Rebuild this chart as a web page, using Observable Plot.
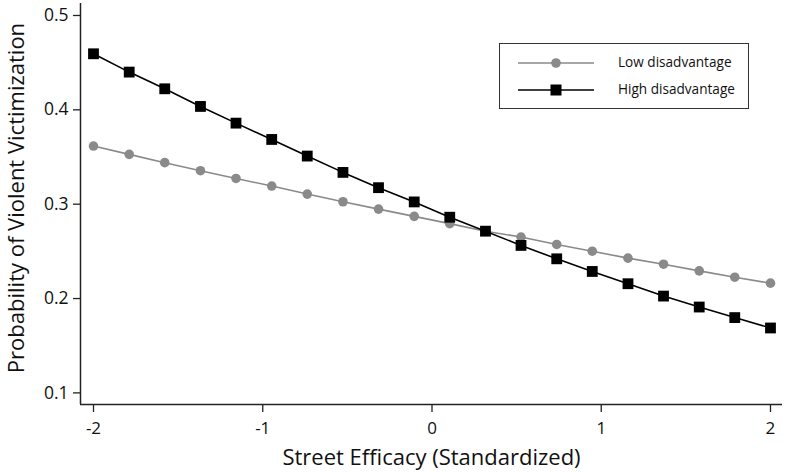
<!DOCTYPE html>
<html><head><meta charset="utf-8">
<script src="https://cdn.jsdelivr.net/npm/d3@7"></script>
<script src="https://cdn.jsdelivr.net/npm/@observablehq/plot@0.6"></script>
<style>
body{margin:0;background:#fff;font-family:"Open Sans",sans-serif}
#wrap{position:relative;width:785px;height:472px}
#legend{position:absolute;left:499px;top:43px;width:248px;height:64px;border:1.4px solid #333;background:#fff;font-family:"Open Sans",sans-serif;font-size:13.6px;color:#111}
.row{position:absolute;left:0;height:20px;width:100%}
.row svg{position:absolute;left:17px;top:0}
.row span{position:absolute;left:118px;top:0px;line-height:18px}
</style></head><body>
<div id="wrap"><div id="chart"></div>
<div id="legend">
  <div class="row" style="top:9px"><svg width="80" height="20"><line x1="1" x2="77" y1="10" y2="10" stroke="#8a8a8a" stroke-width="1.6"/><circle cx="39" cy="10" r="4.8" fill="#8a8a8a"/></svg><span id="l0"></span></div>
  <div class="row" style="top:36px"><svg width="80" height="20"><line x1="1" x2="77" y1="10" y2="10" stroke="#000" stroke-width="1.6"/><rect x="33.5" y="4.5" width="11" height="11" fill="#000"/></svg><span id="l1"></span></div>
</div></div>
<script>
const efficacy = [-2, -1.789, -1.579, -1.368, -1.158, -0.947, -0.737, -0.526, -0.316, -0.105, 0.105, 0.316, 0.526, 0.737, 0.947, 1.158, 1.368, 1.579, 1.789, 2];
const lowDisadvantage = [0.3616, 0.3528, 0.344, 0.3355, 0.3273, 0.3192, 0.3107, 0.3026, 0.2948, 0.2871, 0.2794, 0.2714, 0.2652, 0.2573, 0.2502, 0.2428, 0.2364, 0.2293, 0.2226, 0.2163];
const highDisadvantage = [0.4594, 0.440, 0.4223, 0.4036, 0.3859, 0.3686, 0.351, 0.3337, 0.3175, 0.3024, 0.2862, 0.2714, 0.2563, 0.2421, 0.2287, 0.2157, 0.2026, 0.191, 0.1798, 0.1688];
const seriesNames = ["Low disadvantage", "High disadvantage"];
const xTicks = [-2, -1, 0, 1, 2];
const yTicks = [0.1, 0.2, 0.3, 0.4, 0.5];
const xTitle = "Street Efficacy (Standardized)";
const yTitle = "Probability of Violent Victimization";

const low = efficacy.map((x, i) => ({x, y: lowDisadvantage[i]}));
const high = efficacy.map((x, i) => ({x, y: highDisadvantage[i]}));
const xDom = [-2.0768, 2.071];
const yDom = [0.0877, 0.5127];
const gray = "#8a8a8a";

document.getElementById("l0").textContent = seriesNames[0];
document.getElementById("l1").textContent = seriesNames[1];

const chart = Plot.plot({
  width: 785, height: 472,
  marginLeft: 80, marginRight: 3, marginTop: 3, marginBottom: 68,
  style: {fontFamily: "Open Sans, sans-serif", color: "#111", background: "#fff"},
  x: {domain: xDom},
  y: {domain: yDom},
  marks: [
    Plot.axisX({ticks: xTicks, tickFormat: d => String(d), tickSize: 8, tickPadding: 9, fontSize: 17, label: null, stroke: "#222", strokeWidth: 1.3}),
    Plot.axisY({ticks: yTicks, tickFormat: d3.format(".1f"), tickSize: 7, tickPadding: 5, fontSize: 17.5, label: null, stroke: "#222", strokeWidth: 1.3}),
    Plot.ruleX([xDom[0]], {stroke: "#222", strokeWidth: 1.5}),
    Plot.ruleY([yDom[0]], {stroke: "#222", strokeWidth: 1.5}),
    Plot.line(low, {x: "x", y: "y", stroke: gray, strokeWidth: 1.6}),
    Plot.line(high, {x: "x", y: "y", stroke: "#000", strokeWidth: 1.6}),
    Plot.dot(low, {x: "x", y: "y", r: 4.8, fill: gray, stroke: "none"}),
    Plot.dot(high, {x: "x", y: "y", r: 6.1, symbol: "square", fill: "#000", stroke: "none"}),
    Plot.text([xTitle], {frameAnchor: "bottom", dy: 53, textAnchor: "middle", lineAnchor: "middle", fontSize: 22, fill: "#111"}),
    Plot.text([yTitle], {frameAnchor: "left", dx: -64, dy: -6, rotate: -90, textAnchor: "middle", lineAnchor: "middle", fontSize: 22, fill: "#111"})
  ]
});
document.getElementById("chart").appendChild(chart);
</script>
</body></html>
